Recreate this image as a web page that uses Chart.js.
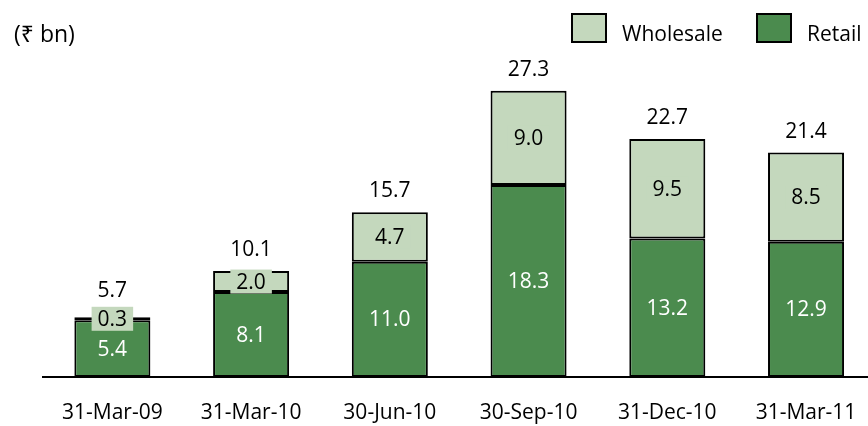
<!DOCTYPE html>
<html>
<head>
<meta charset="utf-8">
<script src="https://cdn.jsdelivr.net/npm/chart.js@4.4.1/dist/chart.umd.min.js"></script>
<style>
  html, body { margin: 0; padding: 0; background: #ffffff; }
  #wrap { width: 868px; height: 426px; overflow: hidden; position: relative; }
  #chart { display: block; }
</style>
</head>
<body>
<div id="wrap"><canvas id="chart" width="900" height="450"></canvas></div>
<script>
// Loan book by segment (₹ bn)
const categories = ['31-Mar-09', '31-Mar-10', '30-Jun-10', '30-Sep-10', '31-Dec-10', '31-Mar-11'];
const retail     = [5.4, 8.1, 11.0, 18.3, 13.2, 12.9];
const wholesale  = [0.3, 2.0, 4.7, 9.0, 9.5, 8.5];
const totals     = [5.7, 10.1, 15.7, 27.3, 22.7, 21.4];
const unitLabel  = '(₹ bn)';

const RETAIL_COLOR = '#4b8b4e';
const WHOLESALE_COLOR = '#c4d8bd';
const FONT = '"Open Sans", "Noto Sans", "DejaVu Sans", sans-serif';
const FONT_SIZE = 21;

const labelsPlugin = {
  id: 'barLabels',
  afterDatasetsDraw(chart) {
    const ctx = chart.ctx;
    const retailMeta = chart.getDatasetMeta(0);
    const wholeMeta = chart.getDatasetMeta(1);
    ctx.save();
    ctx.font = FONT_SIZE + 'px ' + FONT;
    ctx.textAlign = 'center';
    ctx.textBaseline = 'middle';

    retailMeta.data.forEach((bar, i) => {
      const cy = (bar.y + bar.base) / 2;
      ctx.fillStyle = '#ffffff';
      ctx.fillText(retail[i].toFixed(1), bar.x, cy + 1);
    });

    wholeMeta.data.forEach((bar, i) => {
      const cy = (bar.y + bar.base) / 2;
      const txt = wholesale[i].toFixed(1);
      const w = ctx.measureText(txt).width + 12;
      const h = 24;
      ctx.fillStyle = WHOLESALE_COLOR;
      ctx.fillRect(bar.x - w / 2, cy - h / 2, w, h);
      ctx.fillStyle = '#000000';
      ctx.fillText(txt, bar.x, cy + 1);

      // stack total above the bar (kept clear of the segment label box)
      const ty = Math.min(bar.y - 21, cy - h / 2 - 16);
      ctx.fillText(totals[i].toFixed(1), bar.x, ty);
    });
    ctx.restore();
  }
};

const legendPlugin = {
  id: 'customLegend',
  afterDraw(chart) {
    const ctx = chart.ctx;
    ctx.save();
    ctx.textBaseline = 'alphabetic';
    ctx.textAlign = 'left';
    ctx.fillStyle = '#000000';
    ctx.font = '23px ' + FONT;
    ctx.fillText(unitLabel, 14, 42);

    ctx.font = FONT_SIZE + 'px ' + FONT;
    const items = [
      { text: chart.data.datasets[1].label, color: chart.data.datasets[1].backgroundColor, x: 572 },
      { text: chart.data.datasets[0].label, color: chart.data.datasets[0].backgroundColor, x: 757 }
    ];
    items.forEach(it => {
      ctx.fillStyle = it.color;
      ctx.fillRect(it.x, 14, 34, 28);
      ctx.lineWidth = 2;
      ctx.strokeStyle = '#000000';
      ctx.strokeRect(it.x, 14, 34, 28);
      ctx.fillStyle = '#000000';
      ctx.fillText(it.text, it.x + 50, 41);
    });
    ctx.restore();
  }
};

new Chart(document.getElementById('chart'), {
  type: 'bar',
  data: {
    labels: categories,
    datasets: [
      {
        label: 'Retail',
        data: retail,
        backgroundColor: RETAIL_COLOR,
        borderColor: '#000000',
        borderWidth: 2,
        borderSkipped: false,
        barPercentage: 0.548,
        categoryPercentage: 1.0
      },
      {
        label: 'Wholesale',
        data: wholesale,
        backgroundColor: WHOLESALE_COLOR,
        borderColor: '#000000',
        borderWidth: 2,
        borderSkipped: false,
        barPercentage: 0.548,
        categoryPercentage: 1.0
      }
    ]
  },
  options: {
    responsive: false,
    animation: false,
    devicePixelRatio: 1,
    layout: { padding: { left: 43, right: 24.6, top: 20.4, bottom: 1.8 } },
    plugins: {
      legend: { display: false },
      tooltip: { enabled: false },
      title: { display: false }
    },
    scales: {
      x: {
        stacked: true,
        grid: { display: false, drawTicks: false },
        border: { display: true, color: '#000000', width: 2 },
        ticks: {
          color: '#000000',
          padding: 23,
          font: { family: FONT, size: FONT_SIZE },
          maxRotation: 0,
          autoSkip: false
        }
      },
      y: {
        stacked: true,
        display: false,
        min: 0,
        max: 34
      }
    }
  },
  plugins: [labelsPlugin, legendPlugin]
});
</script>
</body>
</html>
